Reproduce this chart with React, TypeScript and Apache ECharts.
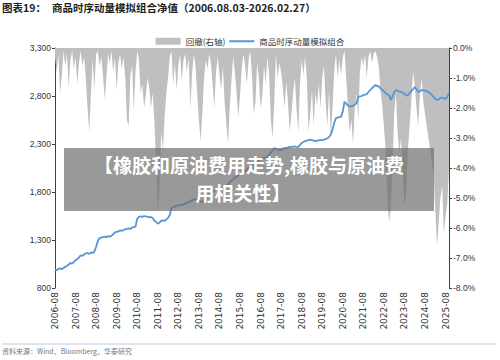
import React, { useEffect, useRef } from "react";
import * as echarts from "echarts";

// Monthly categories 2006-08 .. 2025-10 (axis slots; labels every 12th)
const categories: string[] = (() => {
  const out: string[] = [];
  let y = 2006;
  let m = 8;
  while (!(y === 2025 && m === 11)) {
    out.push(`${y}-${String(m).padStart(2, "0")}`);
    m++;
    if (m > 12) {
      m = 1;
      y++;
    }
  }
  return out;
})();

// 商品时序动量模拟组合 (left axis)
const netValue: number[] = [
  990, 985, 1000, 1005, 995, 1010, 1020, 1030, 1045, 1060, 1055, 1070,
  1090, 1100, 1120, 1140, 1135, 1150, 1160, 1165, 1155, 1170, 1165, 1180,
  1230, 1290, 1320, 1325, 1330, 1335, 1330, 1340, 1335, 1345, 1360, 1380,
  1385, 1390, 1400, 1395, 1405, 1410, 1415, 1420, 1415, 1430, 1435, 1440,
  1520, 1540, 1545, 1540, 1550, 1545, 1540, 1535, 1540, 1530, 1500, 1490,
  1470, 1480, 1500, 1505, 1500, 1515, 1530, 1560, 1630, 1645, 1650, 1655,
  1660, 1665, 1665, 1670, 1680, 1690, 1695, 1705, 1715, 1720, 1725, 1720,
  1710, 1700, 1695, 1710, 1740, 1760, 1780, 1790, 1800, 1815, 1820, 1825,
  1820, 1820, 1830, 1845, 1860, 1880, 1900, 1920, 1930, 1950, 1960, 1975,
  1990, 2000, 2010, 2020, 2035, 2050, 2060, 2070, 2080, 2095, 2110, 2130,
  2140, 2150, 2155, 2150, 2170, 2190, 2210, 2230, 2258, 2250, 2240, 2235,
  2240, 2250, 2260, 2255, 2265, 2270, 2268, 2272, 2275, 2270, 2268, 2290,
  2310, 2320, 2330, 2335, 2340, 2345, 2340, 2335, 2330, 2335, 2338, 2340,
  2340, 2345, 2350, 2360, 2373, 2400, 2450, 2520, 2570, 2575, 2580, 2585,
  2640, 2740, 2720, 2700, 2690, 2695, 2700, 2706, 2730, 2790, 2795, 2800,
  2810, 2815, 2820, 2842, 2860, 2880, 2900, 2915, 2905, 2900, 2880, 2865,
  2850, 2830, 2815, 2810, 2758, 2790, 2840, 2862, 2855, 2845, 2840, 2835,
  2820, 2810, 2805, 2830, 2850, 2870, 2894, 2870, 2842, 2850, 2862, 2860,
  2855, 2850, 2840, 2830, 2810, 2790, 2770, 2758, 2765, 2780, 2785, 2775,
  2770, 2790, 2830,
];

// 回撤(右轴), percent
const drawdown: number[] = [
  -0.3, -0.8, -0.2, -1.5, -0.9, -0.1, -0.6, -0.2, -1.3, -0.4, -0.1, -0.7,
  -0.3, -1.2, -0.5, -0.1, -0.6, -0.3, -1.0, -2.0, -2.8, -1.5, -0.4, -1.4,
  -0.2, -0.1, -0.6, -0.3, -0.9, -1.7, -1.0, -0.2, -0.5, -0.1, -0.8, -0.3,
  -1.4, -0.5, -0.2, -0.7, -0.3, -1.0, -2.4, -2.6, -0.9, -0.6, -2.1, -0.8,
  -0.1, -0.4, -1.5, -1.2, -2.0, -1.6, -1.0, -1.3, -2.0, -1.5, -2.4, -3.8,
  -5.5, -4.6, -2.8, -3.4, -2.3, -1.5, -1.0, -0.3, -0.1, -1.2, -0.5, -1.4,
  -0.6, -0.2, -1.1, -0.4, -0.2, -0.8, -0.3, -2.0, -0.9, -0.2, -0.6, -1.5,
  -2.4, -3.1, -2.2, -1.0, -0.4, -0.7, -0.2, -0.5, -1.2, -2.0, -0.8, -0.3,
  -0.9, -1.4, -0.6, -1.8, -2.5, -3.2, -2.0, -1.1, -0.3, -0.8, -1.5, -2.3,
  -1.6, -0.7, -0.2, -0.6, -1.2, -0.4, -0.1, -0.9, -2.2, -1.8, -0.5, -1.0,
  -2.0, -1.6, -0.6, -1.2, -0.3, -0.9, -2.4, -3.0, -1.8, -0.2, -1.0, -0.5,
  -0.8, -1.3, -2.0, -1.1, -1.8, -2.8, -2.2, -1.5, -1.0, -2.0, -2.8, -1.2,
  -0.4, -0.9, -0.3, -1.0, -2.8, -2.2, -1.4, -2.6, -1.5, -1.9, -1.2, -2.0,
  -1.0, -0.6, -1.8, -2.6, -1.4, -3.0, -2.0, -0.8, -0.2, -1.0, -0.4, -0.9,
  -0.3, -0.1, -1.0, -2.0, -2.8, -2.4, -3.2, -2.0, -1.5, -2.4, -0.8, -0.3,
  -0.6, -0.2, -1.0, -0.3, -0.1, -0.5, -0.2, -0.1, -0.3, -0.6, -1.4, -1.9,
  -2.6, -3.4, -5.0, -5.8, -5.4, -4.0, -2.2, -1.5, -2.8, -3.5, -3.0, -4.2,
  -5.3, -4.8, -3.4, -2.6, -1.8, -0.8, -1.2, -2.0, -2.6, -1.6, -1.0, -1.8,
  -2.2, -2.6, -3.0, -3.4, -3.8, -4.2, -5.4, -6.6, -5.8, -5.0, -4.6, -6.2,
  -5.6, -5.2, -4.0,
];

const LEFT_TICKS = { min: 800, max: 3300, interval: 500 };
const RIGHT_TICKS = { min: -8, max: 0, interval: 1 };

const NUM_FONT = "Liberation Sans";
const CJK_FONT = "Noto Sans CJK SC";

export default function App() {
  const ref = useRef<HTMLDivElement>(null);

  useEffect(() => {
    document.body.style.margin = "0";
    if (!ref.current) return;
    const chart = echarts.init(ref.current, undefined, { renderer: "svg" });
    chart.setOption({
      animation: false,
      backgroundColor: "#ffffff",
      grid: { left: 55, right: 51, top: 48, bottom: 72, containLabel: false },
      legend: {
        top: 32,
        left: "center",
        itemWidth: 25,
        itemHeight: 7,
        itemGap: 4,
        textStyle: { fontSize: 8.5, color: "#333", fontFamily: CJK_FONT },
        data: [
          { name: "回撤(右轴)", icon: "rect" },
          { name: "商品时序动量模拟组合", icon: "path://M0 0H100V8H0Z" },
        ],
      },
      xAxis: {
        type: "category",
        data: categories,
        boundaryGap: false,
        axisLine: { lineStyle: { color: "#404040", width: 1 } },
        axisTick: { interval: 11, length: 3, lineStyle: { color: "#404040" } },
        axisLabel: {
          interval: 11,
          rotate: 90,
          fontSize: 9,
          fontFamily: "DejaVu Sans",
          color: "#333",
          margin: 4,
        },
        splitLine: { show: false },
      },
      yAxis: [
        {
          type: "value",
          position: "left",
          min: LEFT_TICKS.min,
          max: LEFT_TICKS.max,
          interval: LEFT_TICKS.interval,
          axisLine: { show: true, lineStyle: { color: "#404040", width: 1 } },
          axisTick: { show: true, length: 3, lineStyle: { color: "#404040" } },
          axisLabel: {
            fontSize: 8.5,
            fontFamily: NUM_FONT,
            color: "#333",
            margin: 4,
            formatter: (v: number) => v.toLocaleString("en-US"),
          },
          splitLine: { show: false },
        },
        {
          type: "value",
          position: "right",
          min: RIGHT_TICKS.min,
          max: RIGHT_TICKS.max,
          interval: RIGHT_TICKS.interval,
          axisLine: { show: true, lineStyle: { color: "#404040", width: 1 } },
          axisTick: { show: true, length: 3, lineStyle: { color: "#404040" } },
          axisLabel: {
            fontSize: 8.5,
            fontFamily: NUM_FONT,
            color: "#333",
            margin: 4,
            formatter: (v: number) => v.toFixed(1) + "%",
          },
          splitLine: { show: false },
        },
      ],
      series: [
        {
          name: "回撤(右轴)",
          type: "line",
          yAxisIndex: 1,
          data: drawdown,
          symbol: "none",
          color: "#bfbfbf",
          lineStyle: { width: 0, color: "#bfbfbf" },
          areaStyle: { color: "#bfbfbf", opacity: 1 },
          z: 1,
        },
        {
          name: "商品时序动量模拟组合",
          type: "line",
          yAxisIndex: 0,
          data: netValue,
          symbol: "none",
          color: "#5597d6",
          lineStyle: { width: 1.8, color: "#5597d6" },
          z: 3,
        },
      ],
      graphic: [
        {
          type: "text",
          left: 2,
          top: 2,
          style: {
            text: "图表19：",
            fontSize: 10.5,
            fontWeight: "bold",
            fontFamily: CJK_FONT,
            fill: "#222",
          },
        },
        {
          type: "text",
          left: 52,
          top: 2,
          style: {
            text: "商品时序动量模拟组合净值（2006.08.03-2026.02.27）",
            fontSize: 10.5,
            fontWeight: "bold",
            fontFamily: CJK_FONT,
            fill: "#222",
          },
        },
        {
          type: "line",
          shape: { x1: 2, y1: 344, x2: 496, y2: 344 },
          style: { stroke: "#b9cae3", lineWidth: 1 },
        },
        {
          type: "text",
          left: 2,
          top: 347,
          style: {
            text: "资料来源：Wind，Bloomberg，华泰研究",
            fontSize: 7,
            fontFamily: CJK_FONT,
            fill: "#777",
          },
        },
        {
          type: "rect",
          shape: { x: 64, y: 148, width: 370, height: 63 },
          style: { fill: "rgba(110,110,110,0.7)" },
          z: 100,
        },
        {
          type: "text",
          x: 249,
          y: 164,
          style: {
            text: "【橡胶和原油费用走势,橡胶与原油费",
            fontSize: 19,
            lineHeight: 20,
            fontWeight: "bold",
            fontFamily: CJK_FONT,
            fill: "#ffffff",
            align: "center",
            verticalAlign: "middle",
          },
          z: 101,
        },
        {
          type: "text",
          x: 243,
          y: 192,
          style: {
            text: "用相关性】",
            fontSize: 19,
            lineHeight: 20,
            fontWeight: "bold",
            fontFamily: CJK_FONT,
            fill: "#ffffff",
            align: "center",
            verticalAlign: "middle",
          },
          z: 101,
        },
      ],
    });
    return () => chart.dispose();
  }, []);

  return <div ref={ref} style={{ width: 500, height: 360 }} />;
}
